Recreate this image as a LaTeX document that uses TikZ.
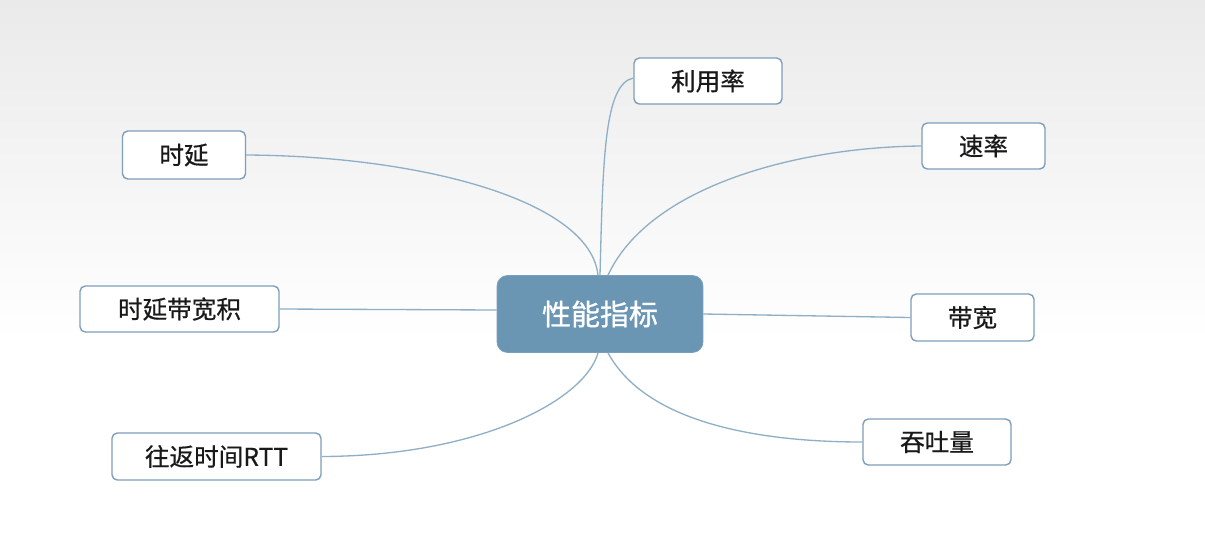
\documentclass[tikz,border=0pt]{standalone}
\usepackage{fontspec}
\newfontfamily\cjk[FakeBold=0.6]{Noto Sans CJK SC}
\newfontfamily\cjkhub[FakeBold=1.0]{Noto Sans CJK SC}
\definecolor{linkc}{HTML}{8FAFC6}
\definecolor{boxborder}{HTML}{7E9EBA}
\definecolor{centerfill}{HTML}{6A96B4}
\definecolor{bgtop}{HTML}{EAEAEA}
\tikzset{
  leaf/.style={draw=boxborder, line width=0.8pt, fill=white, rounded corners=3pt, inner sep=0pt, font=\cjk\fontsize{14}{16}\selectfont, text=black!90},
  hub/.style={fill=centerfill, draw=centerfill!90!white, rounded corners=6pt, inner sep=0pt, font=\cjkhub\fontsize{16.5}{19}\selectfont, text=white},
  link/.style={draw=linkc, line width=0.75pt},
}
\begin{document}
\begin{tikzpicture}[x=0.02cm,y=-0.02cm]
\useasboundingbox (0,0) rectangle (1205,552);
\shade[top color=bgtop, bottom color=white] (0,0) rectangle (1205,340);
\fill[white] (0,340) rectangle (1205,552);
% nodes
\node[hub, minimum width=4.12cm, minimum height=1.54cm] (c) at (600,314) {性能指标};
\node[leaf, minimum width=2.96cm, minimum height=0.92cm] (util) at (708,81) {利用率};
\node[leaf, minimum width=2.46cm, minimum height=0.96cm] (delay) at (184,155) {时延};
\node[leaf, minimum width=2.46cm, minimum height=0.92cm] (rate) at (983.5,146) {速率};
\node[leaf, minimum width=3.98cm, minimum height=0.92cm] (dbp) at (179.5,309) {时延带宽积};
\node[leaf, minimum width=2.46cm, minimum height=0.94cm] (bw) at (972.5,317.5) {带宽};
\node[leaf, minimum width=4.18cm, minimum height=0.94cm] (rtt) at (216.5,456.5) {往返时间RTT};
\node[leaf, minimum width=2.96cm, minimum height=0.92cm] (thr) at (937,442) {吞吐量};
% connectors
\draw[link] ([xshift=-0.04cm]c.north) .. controls (590,200) and (420,156) .. (delay.east);
\draw[link] ([xshift=0cm]c.north) .. controls (603,160) and (604,84) .. ([yshift=0.06cm]util.west);
\draw[link] ([xshift=0.16cm]c.north) .. controls (650,185) and (800,147) .. (rate.west);
\draw[link] (dbp.east) -- ([yshift=0.08cm]c.west);
\draw[link] (c.east) -- (bw.west);
\draw[link] (rtt.east) .. controls (480,456) and (585,400) .. ([xshift=-0.04cm]c.south);
\draw[link] ([xshift=0.16cm]c.south) .. controls (650,430) and (780,442) .. (thr.west);
\end{tikzpicture}
\end{document}
